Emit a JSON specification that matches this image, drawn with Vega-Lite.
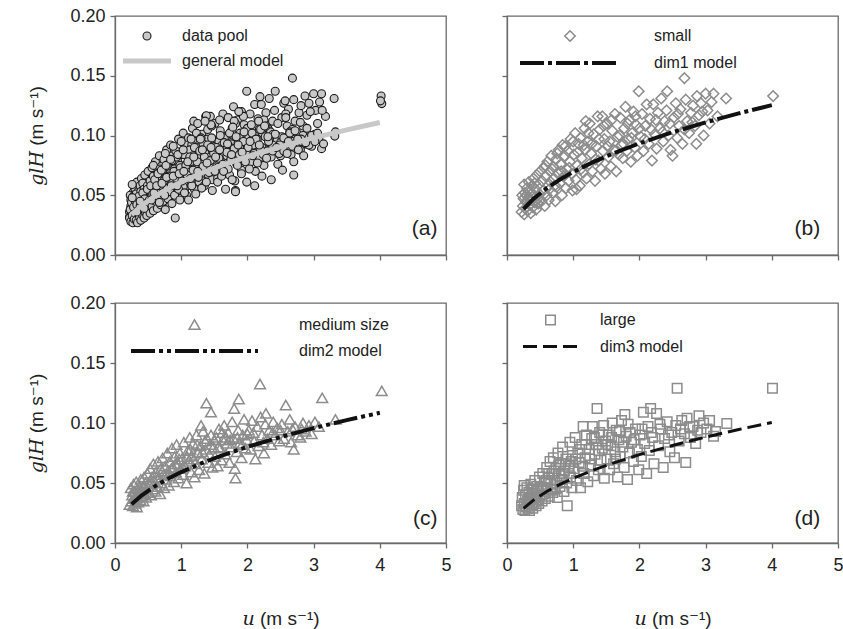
{
  "$schema": "https://vega.github.io/schema/vega-lite/v6.json",
  "padding": {"left": 27, "top": 6, "right": 5, "bottom": 0},
  "config": {
    "font": "Liberation Sans",
    "view": {"stroke": "#6a6a6a", "strokeWidth": 1.3},
    "axis": {
      "domainColor": "#6a6a6a", "domainWidth": 1.3,
      "tickColor": "#6a6a6a", "tickWidth": 1.3, "tickSize": 5,
      "grid": false,
      "labelFont": "Liberation Sans", "labelFontSize": 18, "labelColor": "#222222",
      "labelPadding": 5, "labelFlush": false,
      "titleFont": "Liberation Sans, DejaVu Serif", "titleFontSize": 19, "titleColor": "#222222", "titleFontWeight": "normal"
    },
    "legend": {"padding": 0, "labelFont": "Liberation Sans", "labelFontSize": 16, "labelColor": "#222222"}
  },
  "datasets": {
    "obs": [
      {"set":"small","u":0.22,"g":0.036},{"set":"small","u":0.24,"g":0.041},{"set":"small","u":0.25,"g":0.047},{"set":"small","u":0.26,"g":0.034},
      {"set":"small","u":0.27,"g":0.052},{"set":"small","u":0.28,"g":0.039},{"set":"small","u":0.29,"g":0.044},{"set":"small","u":0.30,"g":0.056},
      {"set":"small","u":0.31,"g":0.037},{"set":"small","u":0.32,"g":0.048},{"set":"small","u":0.33,"g":0.061},{"set":"small","u":0.34,"g":0.042},
      {"set":"small","u":0.35,"g":0.053},{"set":"small","u":0.36,"g":0.035},{"set":"small","u":0.37,"g":0.046},{"set":"small","u":0.38,"g":0.058},
      {"set":"small","u":0.39,"g":0.040},{"set":"small","u":0.40,"g":0.064},{"set":"small","u":0.41,"g":0.050},{"set":"small","u":0.42,"g":0.044},
      {"set":"small","u":0.43,"g":0.055},{"set":"small","u":0.44,"g":0.038},{"set":"small","u":0.45,"g":0.067},{"set":"small","u":0.46,"g":0.047},
      {"set":"small","u":0.47,"g":0.043},{"set":"small","u":0.48,"g":0.059},{"set":"small","u":0.49,"g":0.051},{"set":"small","u":0.50,"g":0.070},
      {"set":"small","u":0.26,"g":0.059},{"set":"small","u":0.23,"g":0.050},{"set":"small","u":0.52,"g":0.045},{"set":"small","u":0.53,"g":0.062},
      {"set":"small","u":0.55,"g":0.054},{"set":"small","u":0.56,"g":0.073},{"set":"small","u":0.57,"g":0.041},{"set":"small","u":0.58,"g":0.066},
      {"set":"small","u":0.60,"g":0.050},{"set":"small","u":0.61,"g":0.078},{"set":"small","u":0.62,"g":0.058},{"set":"small","u":0.63,"g":0.046},
      {"set":"small","u":0.65,"g":0.070},{"set":"small","u":0.66,"g":0.061},{"set":"small","u":0.67,"g":0.083},{"set":"small","u":0.69,"g":0.052},
      {"set":"small","u":0.70,"g":0.074},{"set":"small","u":0.71,"g":0.064},{"set":"small","u":0.73,"g":0.045},{"set":"small","u":0.74,"g":0.080},
      {"set":"small","u":0.75,"g":0.057},{"set":"small","u":0.77,"g":0.068},{"set":"small","u":0.78,"g":0.088},{"set":"small","u":0.80,"g":0.060},
      {"set":"small","u":0.81,"g":0.076},{"set":"small","u":0.83,"g":0.050},{"set":"small","u":0.84,"g":0.092},{"set":"small","u":0.86,"g":0.066},
      {"set":"small","u":0.87,"g":0.083},{"set":"small","u":0.89,"g":0.056},{"set":"small","u":0.90,"g":0.072},{"set":"small","u":0.92,"g":0.087},
      {"set":"small","u":0.93,"g":0.062},{"set":"small","u":0.95,"g":0.078},{"set":"small","u":0.96,"g":0.097},{"set":"small","u":0.98,"g":0.068},
      {"set":"small","u":0.99,"g":0.054},{"set":"small","u":1.01,"g":0.084},{"set":"small","u":1.03,"g":0.102},{"set":"small","u":1.04,"g":0.063},
      {"set":"small","u":1.05,"g":0.055},{"set":"small","u":1.06,"g":0.075},{"set":"small","u":1.08,"g":0.093},{"set":"small","u":1.10,"g":0.058},
      {"set":"small","u":1.11,"g":0.098},{"set":"small","u":1.13,"g":0.081},{"set":"small","u":1.15,"g":0.069},{"set":"small","u":1.17,"g":0.106},
      {"set":"small","u":1.18,"g":0.088},{"set":"small","u":1.19,"g":0.112},{"set":"small","u":1.20,"g":0.064},{"set":"small","u":1.22,"g":0.095},
      {"set":"small","u":1.24,"g":0.076},{"set":"small","u":1.25,"g":0.110},{"set":"small","u":1.27,"g":0.085},{"set":"small","u":1.29,"g":0.070},
      {"set":"small","u":1.31,"g":0.101},{"set":"small","u":1.33,"g":0.062},{"set":"small","u":1.35,"g":0.091},{"set":"small","u":1.37,"g":0.116},
      {"set":"small","u":1.38,"g":0.079},{"set":"small","u":1.40,"g":0.105},{"set":"small","u":1.42,"g":0.072},{"set":"small","u":1.44,"g":0.116},
      {"set":"small","u":1.45,"g":0.087},{"set":"small","u":1.47,"g":0.097},{"set":"small","u":1.48,"g":0.068},{"set":"small","u":1.51,"g":0.110},
      {"set":"small","u":1.53,"g":0.082},{"set":"small","u":1.55,"g":0.095},{"set":"small","u":1.57,"g":0.074},{"set":"small","u":1.59,"g":0.104},
      {"set":"small","u":1.61,"g":0.088},{"set":"small","u":1.63,"g":0.118},{"set":"small","u":1.65,"g":0.070},{"set":"small","u":1.67,"g":0.099},
      {"set":"small","u":1.69,"g":0.084},{"set":"small","u":1.71,"g":0.115},{"set":"small","u":1.73,"g":0.092},{"set":"small","u":1.75,"g":0.081},
      {"set":"small","u":1.77,"g":0.106},{"set":"small","u":1.79,"g":0.124},{"set":"small","u":1.81,"g":0.087},{"set":"small","u":1.83,"g":0.097},
      {"set":"small","u":1.85,"g":0.113},{"set":"small","u":1.87,"g":0.078},{"set":"small","u":1.89,"g":0.102},{"set":"small","u":1.91,"g":0.120},
      {"set":"small","u":1.93,"g":0.090},{"set":"small","u":1.95,"g":0.109},{"set":"small","u":1.97,"g":0.083},{"set":"small","u":1.99,"g":0.137},
      {"set":"small","u":2.02,"g":0.099},{"set":"small","u":2.04,"g":0.118},{"set":"small","u":2.06,"g":0.087},{"set":"small","u":2.09,"g":0.108},
      {"set":"small","u":2.11,"g":0.126},{"set":"small","u":2.14,"g":0.093},{"set":"small","u":2.16,"g":0.114},{"set":"small","u":2.19,"g":0.079},
      {"set":"small","u":2.21,"g":0.126},{"set":"small","u":2.23,"g":0.101},{"set":"small","u":2.26,"g":0.089},{"set":"small","u":2.28,"g":0.119},
      {"set":"small","u":2.31,"g":0.106},{"set":"small","u":2.33,"g":0.131},{"set":"small","u":2.36,"g":0.095},{"set":"small","u":2.38,"g":0.112},
      {"set":"small","u":2.41,"g":0.121},{"set":"small","u":2.42,"g":0.137},{"set":"small","u":2.44,"g":0.100},{"set":"small","u":2.47,"g":0.088},
      {"set":"small","u":2.50,"g":0.083},{"set":"small","u":2.52,"g":0.115},{"set":"small","u":2.55,"g":0.127},{"set":"small","u":2.57,"g":0.098},
      {"set":"small","u":2.60,"g":0.108},{"set":"small","u":2.62,"g":0.122},{"set":"small","u":2.65,"g":0.093},{"set":"small","u":2.68,"g":0.148},
      {"set":"small","u":2.70,"g":0.130},{"set":"small","u":2.72,"g":0.112},{"set":"small","u":2.75,"g":0.102},{"set":"small","u":2.78,"g":0.119},
      {"set":"small","u":2.81,"g":0.125},{"set":"small","u":2.84,"g":0.108},{"set":"small","u":2.86,"g":0.093},{"set":"small","u":2.87,"g":0.133},
      {"set":"small","u":2.90,"g":0.117},{"set":"small","u":2.93,"g":0.127},{"set":"small","u":2.97,"g":0.100},{"set":"small","u":3.00,"g":0.135},
      {"set":"small","u":3.03,"g":0.121},{"set":"small","u":3.06,"g":0.110},{"set":"small","u":3.09,"g":0.128},{"set":"small","u":3.12,"g":0.135},
      {"set":"small","u":3.18,"g":0.116},{"set":"small","u":3.31,"g":0.131},{"set":"small","u":4.02,"g":0.133},
      {"set":"small","u":0.58,"g":0.075},{"set":"small","u":0.64,"g":0.055},{"set":"small","u":0.68,"g":0.072},{"set":"small","u":0.72,"g":0.058},
      {"set":"small","u":0.76,"g":0.085},{"set":"small","u":0.82,"g":0.070},{"set":"small","u":0.88,"g":0.091},{"set":"small","u":0.94,"g":0.073},
      {"set":"small","u":1.00,"g":0.095},{"set":"small","u":1.07,"g":0.086},{"set":"small","u":1.12,"g":0.072},{"set":"small","u":1.16,"g":0.092},
      {"set":"small","u":1.23,"g":0.102},{"set":"small","u":1.28,"g":0.093},{"set":"small","u":1.34,"g":0.080},{"set":"small","u":1.39,"g":0.097},
      {"set":"small","u":1.46,"g":0.108},{"set":"small","u":1.52,"g":0.091},{"set":"small","u":1.58,"g":0.113},{"set":"small","u":1.64,"g":0.087},
      {"set":"small","u":1.70,"g":0.100},{"set":"small","u":1.76,"g":0.093},{"set":"small","u":1.82,"g":0.110},{"set":"small","u":1.88,"g":0.098},
      {"set":"small","u":1.94,"g":0.116},{"set":"small","u":2.00,"g":0.106},{"set":"small","u":2.08,"g":0.097},{"set":"small","u":2.18,"g":0.105},
      {"set":"small","u":2.25,"g":0.113},{"set":"small","u":2.35,"g":0.103},{"set":"small","u":2.46,"g":0.110},{"set":"small","u":2.58,"g":0.118},
      {"set":"small","u":2.68,"g":0.105},{"set":"small","u":2.80,"g":0.111},{"set":"small","u":2.95,"g":0.120},{"set":"small","u":0.35,"g":0.046},
      {"set":"small","u":0.42,"g":0.060},{"set":"small","u":0.29,"g":0.050},

      {"set":"medium size","u":0.22,"g":0.032},{"set":"medium size","u":0.24,"g":0.046},{"set":"medium size","u":0.25,"g":0.035},{"set":"medium size","u":0.26,"g":0.040},
      {"set":"medium size","u":0.27,"g":0.031},{"set":"medium size","u":0.28,"g":0.049},{"set":"medium size","u":0.29,"g":0.037},{"set":"medium size","u":0.30,"g":0.043},
      {"set":"medium size","u":0.31,"g":0.033},{"set":"medium size","u":0.32,"g":0.051},{"set":"medium size","u":0.33,"g":0.038},{"set":"medium size","u":0.34,"g":0.045},
      {"set":"medium size","u":0.35,"g":0.034},{"set":"medium size","u":0.36,"g":0.041},{"set":"medium size","u":0.37,"g":0.048},{"set":"medium size","u":0.38,"g":0.036},
      {"set":"medium size","u":0.39,"g":0.053},{"set":"medium size","u":0.40,"g":0.043},{"set":"medium size","u":0.41,"g":0.039},{"set":"medium size","u":0.42,"g":0.047},
      {"set":"medium size","u":0.43,"g":0.035},{"set":"medium size","u":0.44,"g":0.055},{"set":"medium size","u":0.45,"g":0.041},{"set":"medium size","u":0.46,"g":0.050},
      {"set":"medium size","u":0.47,"g":0.038},{"set":"medium size","u":0.48,"g":0.045},{"set":"medium size","u":0.49,"g":0.058},{"set":"medium size","u":0.50,"g":0.042},
      {"set":"medium size","u":0.27,"g":0.043},{"set":"medium size","u":0.33,"g":0.030},{"set":"medium size","u":0.52,"g":0.049},{"set":"medium size","u":0.53,"g":0.062},
      {"set":"medium size","u":0.54,"g":0.040},{"set":"medium size","u":0.56,"g":0.055},{"set":"medium size","u":0.57,"g":0.045},{"set":"medium size","u":0.58,"g":0.066},
      {"set":"medium size","u":0.60,"g":0.051},{"set":"medium size","u":0.61,"g":0.043},{"set":"medium size","u":0.62,"g":0.059},{"set":"medium size","u":0.64,"g":0.047},
      {"set":"medium size","u":0.65,"g":0.068},{"set":"medium size","u":0.66,"g":0.054},{"set":"medium size","u":0.68,"g":0.041},{"set":"medium size","u":0.69,"g":0.062},
      {"set":"medium size","u":0.70,"g":0.050},{"set":"medium size","u":0.72,"g":0.071},{"set":"medium size","u":0.73,"g":0.057},{"set":"medium size","u":0.74,"g":0.046},
      {"set":"medium size","u":0.76,"g":0.064},{"set":"medium size","u":0.77,"g":0.053},{"set":"medium size","u":0.79,"g":0.075},{"set":"medium size","u":0.80,"g":0.060},
      {"set":"medium size","u":0.81,"g":0.048},{"set":"medium size","u":0.83,"g":0.068},{"set":"medium size","u":0.84,"g":0.056},{"set":"medium size","u":0.86,"g":0.079},
      {"set":"medium size","u":0.87,"g":0.063},{"set":"medium size","u":0.89,"g":0.051},{"set":"medium size","u":0.90,"g":0.072},{"set":"medium size","u":0.92,"g":0.059},
      {"set":"medium size","u":0.93,"g":0.082},{"set":"medium size","u":0.95,"g":0.066},{"set":"medium size","u":0.96,"g":0.054},{"set":"medium size","u":0.98,"g":0.075},
      {"set":"medium size","u":0.99,"g":0.062},{"set":"medium size","u":1.01,"g":0.070},{"set":"medium size","u":1.03,"g":0.057},{"set":"medium size","u":1.04,"g":0.084},
      {"set":"medium size","u":1.06,"g":0.064},{"set":"medium size","u":1.08,"g":0.050},{"set":"medium size","u":1.10,"g":0.077},{"set":"medium size","u":1.11,"g":0.068},
      {"set":"medium size","u":1.13,"g":0.088},{"set":"medium size","u":1.15,"g":0.059},{"set":"medium size","u":1.16,"g":0.073},{"set":"medium size","u":1.18,"g":0.083},
      {"set":"medium size","u":1.20,"g":0.055},{"set":"medium size","u":1.21,"g":0.066},{"set":"medium size","u":1.23,"g":0.090},{"set":"medium size","u":1.25,"g":0.075},
      {"set":"medium size","u":1.27,"g":0.061},{"set":"medium size","u":1.29,"g":0.081},{"set":"medium size","u":1.31,"g":0.070},{"set":"medium size","u":1.33,"g":0.093},
      {"set":"medium size","u":1.35,"g":0.058},{"set":"medium size","u":1.37,"g":0.078},{"set":"medium size","u":1.39,"g":0.087},{"set":"medium size","u":1.41,"g":0.067},
      {"set":"medium size","u":1.43,"g":0.074},{"set":"medium size","u":1.45,"g":0.090},{"set":"medium size","u":1.47,"g":0.063},{"set":"medium size","u":1.49,"g":0.080},
      {"set":"medium size","u":1.30,"g":0.098},{"set":"medium size","u":1.38,"g":0.1165},{"set":"medium size","u":1.45,"g":0.109},
      {"set":"medium size","u":1.51,"g":0.072},{"set":"medium size","u":1.53,"g":0.088},{"set":"medium size","u":1.55,"g":0.064},{"set":"medium size","u":1.57,"g":0.095},
      {"set":"medium size","u":1.59,"g":0.079},{"set":"medium size","u":1.61,"g":0.069},{"set":"medium size","u":1.63,"g":0.086},{"set":"medium size","u":1.65,"g":0.098},
      {"set":"medium size","u":1.67,"g":0.074},{"set":"medium size","u":1.69,"g":0.083},{"set":"medium size","u":1.71,"g":0.092},{"set":"medium size","u":1.73,"g":0.067},
      {"set":"medium size","u":1.75,"g":0.080},{"set":"medium size","u":1.77,"g":0.101},{"set":"medium size","u":1.79,"g":0.087},{"set":"medium size","u":1.81,"g":0.062},
      {"set":"medium size","u":1.82,"g":0.054},{"set":"medium size","u":1.84,"g":0.076},{"set":"medium size","u":1.86,"g":0.094},{"set":"medium size","u":1.88,"g":0.083},
      {"set":"medium size","u":1.91,"g":0.071},{"set":"medium size","u":1.93,"g":0.090},{"set":"medium size","u":1.95,"g":0.103},{"set":"medium size","u":1.97,"g":0.079},
      {"set":"medium size","u":1.99,"g":0.086},{"set":"medium size","u":1.80,"g":0.112},{"set":"medium size","u":1.87,"g":0.120},{"set":"medium size","u":2.02,"g":0.094},
      {"set":"medium size","u":2.05,"g":0.078},{"set":"medium size","u":2.07,"g":0.102},{"set":"medium size","u":2.10,"g":0.085},{"set":"medium size","u":2.12,"g":0.070},
      {"set":"medium size","u":2.15,"g":0.097},{"set":"medium size","u":2.17,"g":0.081},{"set":"medium size","u":2.20,"g":0.105},{"set":"medium size","u":2.22,"g":0.090},
      {"set":"medium size","u":2.25,"g":0.075},{"set":"medium size","u":2.27,"g":0.099},{"set":"medium size","u":2.30,"g":0.087},{"set":"medium size","u":2.33,"g":0.094},
      {"set":"medium size","u":2.36,"g":0.082},{"set":"medium size","u":2.39,"g":0.101},{"set":"medium size","u":2.42,"g":0.090},{"set":"medium size","u":2.45,"g":0.096},
      {"set":"medium size","u":2.48,"g":0.085},{"set":"medium size","u":2.19,"g":0.1325},{"set":"medium size","u":2.28,"g":0.108},{"set":"medium size","u":2.52,"g":0.099},
      {"set":"medium size","u":2.55,"g":0.087},{"set":"medium size","u":2.58,"g":0.115},{"set":"medium size","u":2.61,"g":0.093},{"set":"medium size","u":2.64,"g":0.103},
      {"set":"medium size","u":2.66,"g":0.084},{"set":"medium size","u":2.70,"g":0.078},{"set":"medium size","u":2.72,"g":0.097},{"set":"medium size","u":2.76,"g":0.090},
      {"set":"medium size","u":2.80,"g":0.088},{"set":"medium size","u":2.84,"g":0.100},{"set":"medium size","u":2.88,"g":0.093},{"set":"medium size","u":2.93,"g":0.098},
      {"set":"medium size","u":2.97,"g":0.091},{"set":"medium size","u":3.02,"g":0.101},{"set":"medium size","u":3.08,"g":0.097},{"set":"medium size","u":3.13,"g":0.121},
      {"set":"medium size","u":3.33,"g":0.103},{"set":"medium size","u":4.03,"g":0.1267},
      {"set":"medium size","u":0.55,"g":0.050},{"set":"medium size","u":0.63,"g":0.055},{"set":"medium size","u":0.71,"g":0.060},{"set":"medium size","u":0.78,"g":0.058},
      {"set":"medium size","u":0.85,"g":0.062},{"set":"medium size","u":0.91,"g":0.066},{"set":"medium size","u":0.97,"g":0.070},{"set":"medium size","u":1.02,"g":0.063},
      {"set":"medium size","u":1.09,"g":0.072},{"set":"medium size","u":1.14,"g":0.078},{"set":"medium size","u":1.19,"g":0.070},{"set":"medium size","u":1.24,"g":0.082},
      {"set":"medium size","u":1.32,"g":0.076},{"set":"medium size","u":1.36,"g":0.085},{"set":"medium size","u":1.44,"g":0.082},{"set":"medium size","u":1.50,"g":0.086},
      {"set":"medium size","u":1.56,"g":0.080},{"set":"medium size","u":1.62,"g":0.092},{"set":"medium size","u":1.68,"g":0.088},{"set":"medium size","u":1.74,"g":0.086},
      {"set":"medium size","u":1.85,"g":0.088},{"set":"medium size","u":1.92,"g":0.082},{"set":"medium size","u":2.00,"g":0.091},{"set":"medium size","u":2.09,"g":0.092},
      {"set":"medium size","u":2.24,"g":0.084},{"set":"medium size","u":2.38,"g":0.092},{"set":"medium size","u":2.50,"g":0.094},{"set":"medium size","u":2.68,"g":0.095},
      {"set":"medium size","u":2.82,"g":0.095},{"set":"medium size","u":0.36,"g":0.044},{"set":"medium size","u":0.44,"g":0.046},{"set":"medium size","u":0.31,"g":0.039},

      {"set":"large","u":0.22,"g":0.031},{"set":"large","u":0.23,"g":0.038},{"set":"large","u":0.24,"g":0.028},{"set":"large","u":0.25,"g":0.044},
      {"set":"large","u":0.26,"g":0.033},{"set":"large","u":0.27,"g":0.027},{"set":"large","u":0.28,"g":0.040},{"set":"large","u":0.29,"g":0.030},
      {"set":"large","u":0.30,"g":0.046},{"set":"large","u":0.31,"g":0.035},{"set":"large","u":0.32,"g":0.029},{"set":"large","u":0.33,"g":0.042},
      {"set":"large","u":0.34,"g":0.027},{"set":"large","u":0.35,"g":0.037},{"set":"large","u":0.36,"g":0.049},{"set":"large","u":0.37,"g":0.032},
      {"set":"large","u":0.38,"g":0.041},{"set":"large","u":0.39,"g":0.029},{"set":"large","u":0.40,"g":0.045},{"set":"large","u":0.41,"g":0.034},
      {"set":"large","u":0.42,"g":0.052},{"set":"large","u":0.43,"g":0.038},{"set":"large","u":0.44,"g":0.031},{"set":"large","u":0.45,"g":0.047},
      {"set":"large","u":0.46,"g":0.036},{"set":"large","u":0.47,"g":0.043},{"set":"large","u":0.48,"g":0.033},{"set":"large","u":0.49,"g":0.055},
      {"set":"large","u":0.50,"g":0.040},{"set":"large","u":0.26,"g":0.048},{"set":"large","u":0.52,"g":0.046},{"set":"large","u":0.53,"g":0.035},
      {"set":"large","u":0.54,"g":0.058},{"set":"large","u":0.56,"g":0.041},{"set":"large","u":0.57,"g":0.051},{"set":"large","u":0.58,"g":0.037},
      {"set":"large","u":0.60,"g":0.063},{"set":"large","u":0.61,"g":0.045},{"set":"large","u":0.62,"g":0.054},{"set":"large","u":0.64,"g":0.039},
      {"set":"large","u":0.65,"g":0.068},{"set":"large","u":0.66,"g":0.049},{"set":"large","u":0.68,"g":0.058},{"set":"large","u":0.69,"g":0.042},
      {"set":"large","u":0.70,"g":0.071},{"set":"large","u":0.72,"g":0.052},{"set":"large","u":0.73,"g":0.045},{"set":"large","u":0.74,"g":0.062},
      {"set":"large","u":0.76,"g":0.038},{"set":"large","u":0.77,"g":0.075},{"set":"large","u":0.79,"g":0.056},{"set":"large","u":0.80,"g":0.047},
      {"set":"large","u":0.81,"g":0.066},{"set":"large","u":0.83,"g":0.053},{"set":"large","u":0.84,"g":0.080},{"set":"large","u":0.86,"g":0.043},
      {"set":"large","u":0.87,"g":0.060},{"set":"large","u":0.89,"g":0.070},{"set":"large","u":0.90,"g":0.050},{"set":"large","u":0.91,"g":0.031},
      {"set":"large","u":0.93,"g":0.064},{"set":"large","u":0.95,"g":0.084},{"set":"large","u":0.96,"g":0.055},{"set":"large","u":0.98,"g":0.046},
      {"set":"large","u":0.99,"g":0.073},{"set":"large","u":1.01,"g":0.062},{"set":"large","u":1.03,"g":0.088},{"set":"large","u":1.05,"g":0.052},
      {"set":"large","u":1.07,"g":0.075},{"set":"large","u":1.09,"g":0.067},{"set":"large","u":1.11,"g":0.046},{"set":"large","u":1.13,"g":0.082},
      {"set":"large","u":1.15,"g":0.097},{"set":"large","u":1.16,"g":0.058},{"set":"large","u":1.18,"g":0.071},{"set":"large","u":1.20,"g":0.090},
      {"set":"large","u":1.22,"g":0.051},{"set":"large","u":1.24,"g":0.078},{"set":"large","u":1.26,"g":0.065},{"set":"large","u":1.28,"g":0.087},
      {"set":"large","u":1.29,"g":0.097},{"set":"large","u":1.31,"g":0.056},{"set":"large","u":1.33,"g":0.074},{"set":"large","u":1.35,"g":0.082},
      {"set":"large","u":1.36,"g":0.112},{"set":"large","u":1.38,"g":0.061},{"set":"large","u":1.40,"g":0.092},{"set":"large","u":1.42,"g":0.069},
      {"set":"large","u":1.44,"g":0.079},{"set":"large","u":1.46,"g":0.098},{"set":"large","u":1.47,"g":0.054},{"set":"large","u":1.49,"g":0.085},
      {"set":"large","u":1.51,"g":0.070},{"set":"large","u":1.53,"g":0.090},{"set":"large","u":1.55,"g":0.061},{"set":"large","u":1.57,"g":0.081},
      {"set":"large","u":1.59,"g":0.100},{"set":"large","u":1.61,"g":0.066},{"set":"large","u":1.63,"g":0.076},{"set":"large","u":1.65,"g":0.094},
      {"set":"large","u":1.67,"g":0.055},{"set":"large","u":1.69,"g":0.086},{"set":"large","u":1.71,"g":0.072},{"set":"large","u":1.73,"g":0.102},
      {"set":"large","u":1.75,"g":0.080},{"set":"large","u":1.77,"g":0.063},{"set":"large","u":1.78,"g":0.107},{"set":"large","u":1.80,"g":0.089},
      {"set":"large","u":1.82,"g":0.053},{"set":"large","u":1.83,"g":0.099},{"set":"large","u":1.85,"g":0.075},{"set":"large","u":1.88,"g":0.084},
      {"set":"large","u":1.91,"g":0.068},{"set":"large","u":1.94,"g":0.095},{"set":"large","u":1.97,"g":0.078},{"set":"large","u":1.99,"g":0.061},
      {"set":"large","u":2.01,"g":0.090},{"set":"large","u":2.03,"g":0.072},{"set":"large","u":2.06,"g":0.109},{"set":"large","u":2.08,"g":0.083},
      {"set":"large","u":2.11,"g":0.058},{"set":"large","u":2.13,"g":0.097},{"set":"large","u":2.15,"g":0.077},{"set":"large","u":2.17,"g":0.112},
      {"set":"large","u":2.20,"g":0.088},{"set":"large","u":2.22,"g":0.066},{"set":"large","u":2.26,"g":0.108},{"set":"large","u":2.29,"g":0.081},
      {"set":"large","u":2.32,"g":0.095},{"set":"large","u":2.36,"g":0.063},{"set":"large","u":2.38,"g":0.087},{"set":"large","u":2.42,"g":0.101},
      {"set":"large","u":2.46,"g":0.076},{"set":"large","u":2.49,"g":0.092},{"set":"large","u":2.53,"g":0.071},{"set":"large","u":2.55,"g":0.098},
      {"set":"large","u":2.57,"g":0.129},{"set":"large","u":2.60,"g":0.085},{"set":"large","u":2.64,"g":0.102},{"set":"large","u":2.68,"g":0.091},
      {"set":"large","u":2.70,"g":0.067},{"set":"large","u":2.72,"g":0.104},{"set":"large","u":2.77,"g":0.088},{"set":"large","u":2.81,"g":0.097},
      {"set":"large","u":2.85,"g":0.083},{"set":"large","u":2.90,"g":0.106},{"set":"large","u":2.93,"g":0.092},{"set":"large","u":2.97,"g":0.100},
      {"set":"large","u":3.02,"g":0.095},{"set":"large","u":3.06,"g":0.102},{"set":"large","u":3.12,"g":0.089},{"set":"large","u":3.15,"g":0.093},
      {"set":"large","u":3.32,"g":0.0995},{"set":"large","u":4.01,"g":0.129},
      {"set":"large","u":0.55,"g":0.046},{"set":"large","u":0.59,"g":0.052},{"set":"large","u":0.63,"g":0.058},{"set":"large","u":0.67,"g":0.044},
      {"set":"large","u":0.71,"g":0.060},{"set":"large","u":0.75,"g":0.050},{"set":"large","u":0.78,"g":0.065},{"set":"large","u":0.85,"g":0.058},
      {"set":"large","u":0.88,"g":0.066},{"set":"large","u":0.94,"g":0.058},{"set":"large","u":0.97,"g":0.068},{"set":"large","u":1.04,"g":0.070},
      {"set":"large","u":1.10,"g":0.078},{"set":"large","u":1.14,"g":0.064},{"set":"large","u":1.19,"g":0.082},{"set":"large","u":1.25,"g":0.070},
      {"set":"large","u":1.32,"g":0.088},{"set":"large","u":1.39,"g":0.077},{"set":"large","u":1.45,"g":0.090},{"set":"large","u":1.52,"g":0.082},
      {"set":"large","u":1.58,"g":0.088},{"set":"large","u":1.64,"g":0.070},{"set":"large","u":1.70,"g":0.093},{"set":"large","u":1.76,"g":0.084},
      {"set":"large","u":1.86,"g":0.092},{"set":"large","u":1.92,"g":0.086},{"set":"large","u":2.04,"g":0.095},{"set":"large","u":2.18,"g":0.092},
      {"set":"large","u":2.31,"g":0.099},{"set":"large","u":2.44,"g":0.090},{"set":"large","u":2.62,"g":0.095},{"set":"large","u":2.76,"g":0.097},
      {"set":"large","u":2.88,"g":0.094},{"set":"large","u":0.33,"g":0.036},{"set":"large","u":0.38,"g":0.045},{"set":"large","u":0.44,"g":0.039}
    ],
    "fit": [
      {"model":"general model","u":0.25,"g":0.0337},{"model":"general model","u":0.4,"g":0.0412},{"model":"general model","u":0.6,"g":0.0491},
      {"model":"general model","u":0.8,"g":0.0555},{"model":"general model","u":1.0,"g":0.0611},{"model":"general model","u":1.3,"g":0.0684},
      {"model":"general model","u":1.6,"g":0.0748},{"model":"general model","u":2.0,"g":0.0823},{"model":"general model","u":2.5,"g":0.0906},
      {"model":"general model","u":3.0,"g":0.0980},{"model":"general model","u":3.5,"g":0.1047},{"model":"general model","u":4.0,"g":0.1109},
      {"model":"dim1 model","u":0.25,"g":0.0385},{"model":"dim1 model","u":0.4,"g":0.0470},{"model":"dim1 model","u":0.6,"g":0.0559},
      {"model":"dim1 model","u":0.8,"g":0.0632},{"model":"dim1 model","u":1.0,"g":0.0695},{"model":"dim1 model","u":1.3,"g":0.0777},
      {"model":"dim1 model","u":1.6,"g":0.0849},{"model":"dim1 model","u":2.0,"g":0.0934},{"model":"dim1 model","u":2.5,"g":0.1027},
      {"model":"dim1 model","u":3.0,"g":0.1110},{"model":"dim1 model","u":3.5,"g":0.1185},{"model":"dim1 model","u":4.0,"g":0.1254},
      {"model":"dim2 model","u":0.25,"g":0.0322},{"model":"dim2 model","u":0.4,"g":0.0395},{"model":"dim2 model","u":0.6,"g":0.0472},
      {"model":"dim2 model","u":0.8,"g":0.0536},{"model":"dim2 model","u":1.0,"g":0.0591},{"model":"dim2 model","u":1.3,"g":0.0663},
      {"model":"dim2 model","u":1.6,"g":0.0726},{"model":"dim2 model","u":2.0,"g":0.0801},{"model":"dim2 model","u":2.5,"g":0.0883},
      {"model":"dim2 model","u":3.0,"g":0.0957},{"model":"dim2 model","u":3.5,"g":0.1024},{"model":"dim2 model","u":4.0,"g":0.1085},
      {"model":"dim3 model","u":0.25,"g":0.0289},{"model":"dim3 model","u":0.4,"g":0.0357},{"model":"dim3 model","u":0.6,"g":0.0429},
      {"model":"dim3 model","u":0.8,"g":0.0488},{"model":"dim3 model","u":1.0,"g":0.0539},{"model":"dim3 model","u":1.3,"g":0.0606},
      {"model":"dim3 model","u":1.6,"g":0.0666},{"model":"dim3 model","u":2.0,"g":0.0736},{"model":"dim3 model","u":2.5,"g":0.0813},
      {"model":"dim3 model","u":3.0,"g":0.0882},{"model":"dim3 model","u":3.5,"g":0.0946},{"model":"dim3 model","u":4.0,"g":0.1004}
    ]
  },
  "columns": 2,
  "spacing": {"row": 48, "column": 61},
  "bounds": "flush",
  "resolve": {
    "scale": {"shape": "independent", "size": "independent", "color": "independent", "fill": "independent",
              "stroke": "independent", "strokeWidth": "independent", "strokeDash": "independent"},
    "legend": {"shape": "independent", "size": "independent", "color": "independent", "fill": "independent",
               "stroke": "independent", "strokeWidth": "independent", "strokeDash": "independent"}
  },
  "concat": [
    {
      "width": 331, "height": 239,
      "layer": [
        {
          "data": {"name": "obs"},
          "transform": [{"calculate": "'data pool'", "as": "series"}],
          "mark": {"type": "point", "filled": true, "opacity": 1},
          "encoding": {
            "x": {"field": "u", "type": "quantitative", "scale": {"domain": [0, 5], "nice": false},
                  "axis": {"values": [0, 1, 2, 3, 4, 5], "labels": false, "title": null}},
            "y": {"field": "g", "type": "quantitative", "scale": {"domain": [0, 0.2], "nice": false},
                  "axis": {"values": [0, 0.05, 0.1, 0.15, 0.2], "format": ".2f", "title": "𝑔𝑙𝐻 (m s⁻¹)", "titlePadding": 23}},
            "shape": {"field": "series", "type": "nominal",
              "scale": {"domain": ["data pool", "general model"], "range": ["circle", "stroke"]},
              "legend": {"title": null, "orient": "none", "legendX": 5.5, "legendY": 10, "columns": 1,
                "clipHeight": 20, "rowPadding": 5, "labelOffset": 8.5}},
            "size": {"field": "series", "type": "nominal",
              "scale": {"type": "point", "padding": 0, "domain": ["data pool", "general model"], "range": [64, 2304]}},
            "fill": {"field": "series", "type": "nominal",
              "scale": {"domain": ["data pool", "general model"], "range": ["#c8c8c8", "transparent"]}},
            "stroke": {"field": "series", "type": "nominal",
              "scale": {"domain": ["data pool", "general model"], "range": ["#1a1a1a", "#c8c8c8"]}},
            "strokeWidth": {"field": "series", "type": "nominal",
              "scale": {"type": "point", "padding": 0, "domain": ["data pool", "general model"], "range": [1.1, 5]}}
          }
        },
        {
          "data": {"name": "fit"},
          "transform": [{"filter": {"field": "model", "equal": "general model"}}],
          "mark": {"type": "line", "color": "#c8c8c8", "strokeWidth": 5, "strokeCap": "butt"},
          "encoding": {
            "x": {"field": "u", "type": "quantitative"},
            "y": {"field": "g", "type": "quantitative"}
          }
        },
        {
          "data": {"values": [{"tag": "(a)"}]},
          "mark": {"type": "text", "align": "right", "baseline": "middle", "fontSize": 21, "color": "#222222"},
          "encoding": {
            "x": {"datum": 4.87, "type": "quantitative"},
            "y": {"datum": 0.022, "type": "quantitative"},
            "text": {"field": "tag"}
          }
        }
      ]
    },
    {
      "width": 331, "height": 239,
      "layer": [
        {
          "data": {"name": "obs"},
          "transform": [{"filter": {"field": "set", "equal": "small"}}],
          "mark": {"type": "point", "filled": false, "opacity": 1},
          "encoding": {
            "x": {"field": "u", "type": "quantitative", "scale": {"domain": [0, 5], "nice": false},
                  "axis": {"values": [0, 1, 2, 3, 4, 5], "labels": false, "title": null}},
            "y": {"field": "g", "type": "quantitative", "scale": {"domain": [0, 0.2], "nice": false},
                  "axis": {"values": [0, 0.05, 0.1, 0.15, 0.2], "labels": false, "title": null}},
            "shape": {"field": "set", "type": "nominal",
              "scale": {"domain": ["small", "dim1 model"], "range": ["diamond", "stroke"]},
              "legend": {"title": null, "orient": "none", "legendX": 11, "legendY": 10, "columns": 1,
                "clipHeight": 20, "rowPadding": 7, "labelOffset": 32}},
            "size": {"field": "set", "type": "nominal",
              "scale": {"type": "point", "padding": 0, "domain": ["small", "dim1 model"], "range": [110, 10000]}},
            "color": {"field": "set", "type": "nominal",
              "scale": {"domain": ["small", "dim1 model"], "range": ["#8c8c8c", "#111111"]}},
            "strokeWidth": {"field": "set", "type": "nominal",
              "scale": {"type": "point", "padding": 0, "domain": ["small", "dim1 model"], "range": [1.5, 4]}},
            "strokeDash": {"field": "set", "type": "nominal",
              "scale": {"domain": ["small", "dim1 model"], "range": [[1, 0], [24, 4, 4, 4]]}}
          }
        },
        {
          "data": {"name": "fit"},
          "transform": [{"filter": {"field": "model", "equal": "dim1 model"}}],
          "mark": {"type": "line", "color": "#111111", "strokeWidth": 4, "strokeCap": "butt", "strokeDash": [24, 4, 4, 4]},
          "encoding": {
            "x": {"field": "u", "type": "quantitative"},
            "y": {"field": "g", "type": "quantitative"}
          }
        },
        {
          "data": {"values": [{"tag": "(b)"}]},
          "mark": {"type": "text", "align": "right", "baseline": "middle", "fontSize": 21, "color": "#222222"},
          "encoding": {
            "x": {"datum": 4.73, "type": "quantitative"},
            "y": {"datum": 0.022, "type": "quantitative"},
            "text": {"field": "tag"}
          }
        }
      ]
    },
    {
      "width": 331, "height": 240,
      "layer": [
        {
          "data": {"name": "obs"},
          "transform": [{"filter": {"field": "set", "equal": "medium size"}}],
          "mark": {"type": "point", "filled": false, "opacity": 1},
          "encoding": {
            "x": {"field": "u", "type": "quantitative", "scale": {"domain": [0, 5], "nice": false},
                  "axis": {"values": [0, 1, 2, 3, 4, 5], "format": "d", "title": "𝑢 (m s⁻¹)", "labelPadding": 8, "titlePadding": 35}},
            "y": {"field": "g", "type": "quantitative", "scale": {"domain": [0, 0.2], "nice": false},
                  "axis": {"values": [0, 0.05, 0.1, 0.15, 0.2], "format": ".2f", "title": "𝑔𝑙𝐻 (m s⁻¹)", "titlePadding": 23}},
            "shape": {"field": "set", "type": "nominal",
              "scale": {"domain": ["medium size", "dim2 model"], "range": ["triangle-up", "stroke"]},
              "legend": {"title": null, "orient": "none", "legendX": 14, "legendY": 11.5, "columns": 1,
                "clipHeight": 20, "rowPadding": 6.5, "labelOffset": 39}},
            "size": {"field": "set", "type": "nominal",
              "scale": {"type": "point", "padding": 0, "domain": ["medium size", "dim2 model"], "range": [115, 16129]}},
            "color": {"field": "set", "type": "nominal",
              "scale": {"domain": ["medium size", "dim2 model"], "range": ["#8c8c8c", "#111111"]}},
            "strokeWidth": {"field": "set", "type": "nominal",
              "scale": {"type": "point", "padding": 0, "domain": ["medium size", "dim2 model"], "range": [1.5, 4]}},
            "strokeDash": {"field": "set", "type": "nominal",
              "scale": {"domain": ["medium size", "dim2 model"], "range": [[1, 0], [24, 4, 4, 4, 4, 4]]}}
          }
        },
        {
          "data": {"name": "fit"},
          "transform": [{"filter": {"field": "model", "equal": "dim2 model"}}],
          "mark": {"type": "line", "color": "#111111", "strokeWidth": 4, "strokeCap": "butt", "strokeDash": [24, 4, 4, 4, 4, 4]},
          "encoding": {
            "x": {"field": "u", "type": "quantitative"},
            "y": {"field": "g", "type": "quantitative"}
          }
        },
        {
          "data": {"values": [{"tag": "(c)"}]},
          "mark": {"type": "text", "align": "right", "baseline": "middle", "fontSize": 21, "color": "#222222"},
          "encoding": {
            "x": {"datum": 4.87, "type": "quantitative"},
            "y": {"datum": 0.02, "type": "quantitative"},
            "text": {"field": "tag"}
          }
        }
      ]
    },
    {
      "width": 331, "height": 240,
      "layer": [
        {
          "data": {"name": "obs"},
          "transform": [{"filter": {"field": "set", "equal": "large"}}],
          "mark": {"type": "point", "filled": false, "opacity": 1},
          "encoding": {
            "x": {"field": "u", "type": "quantitative", "scale": {"domain": [0, 5], "nice": false},
                  "axis": {"values": [0, 1, 2, 3, 4, 5], "format": "d", "title": "𝑢 (m s⁻¹)", "labelPadding": 8, "titlePadding": 35}},
            "y": {"field": "g", "type": "quantitative", "scale": {"domain": [0, 0.2], "nice": false},
                  "axis": {"values": [0, 0.05, 0.1, 0.15, 0.2], "labels": false, "title": null}},
            "shape": {"field": "set", "type": "nominal",
              "scale": {"domain": ["large", "dim3 model"], "range": ["square", "stroke"]},
              "legend": {"title": null, "orient": "none", "legendX": 14.5, "legendY": 7, "columns": 1,
                "clipHeight": 20, "rowPadding": 6.5, "labelOffset": 20.5}},
            "size": {"field": "set", "type": "nominal",
              "scale": {"type": "point", "padding": 0, "domain": ["large", "dim3 model"], "range": [90, 3025]}},
            "color": {"field": "set", "type": "nominal",
              "scale": {"domain": ["large", "dim3 model"], "range": ["#8c8c8c", "#111111"]}},
            "strokeWidth": {"field": "set", "type": "nominal",
              "scale": {"type": "point", "padding": 0, "domain": ["large", "dim3 model"], "range": [1.5, 3]}},
            "strokeDash": {"field": "set", "type": "nominal",
              "scale": {"domain": ["large", "dim3 model"], "range": [[1, 0], [14, 6]]}}
          }
        },
        {
          "data": {"name": "fit"},
          "transform": [{"filter": {"field": "model", "equal": "dim3 model"}}],
          "mark": {"type": "line", "color": "#111111", "strokeWidth": 3, "strokeCap": "butt", "strokeDash": [14, 6]},
          "encoding": {
            "x": {"field": "u", "type": "quantitative"},
            "y": {"field": "g", "type": "quantitative"}
          }
        },
        {
          "data": {"values": [{"tag": "(d)"}]},
          "mark": {"type": "text", "align": "right", "baseline": "middle", "fontSize": 21, "color": "#222222"},
          "encoding": {
            "x": {"datum": 4.73, "type": "quantitative"},
            "y": {"datum": 0.02, "type": "quantitative"},
            "text": {"field": "tag"}
          }
        }
      ]
    }
  ]
}
